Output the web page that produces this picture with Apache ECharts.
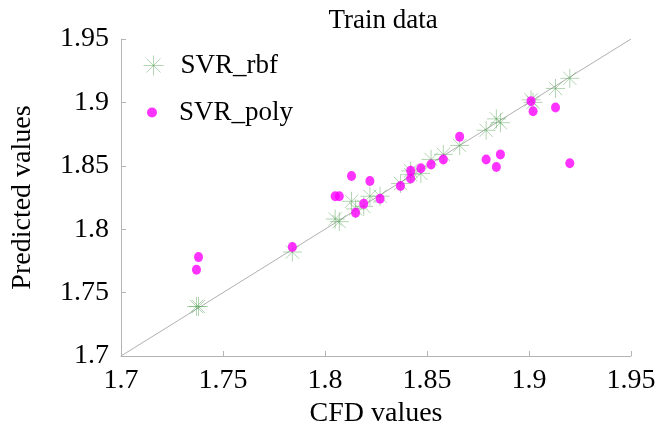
<!DOCTYPE html>
<html>
<head>
<meta charset="utf-8">
<script src="https://cdn.jsdelivr.net/npm/echarts@6/dist/echarts.min.js"></script>
<style>html,body{margin:0;padding:0;background:#fff}#c{width:662px;height:430px}</style>
</head>
<body>
<div id="c"></div>
<script>
const cfdValues = [1.737, 1.738, 1.784, 1.805, 1.807, 1.813, 1.815, 1.819, 1.822, 1.827, 1.837, 1.842, 1.842, 1.847, 1.852, 1.858, 1.866, 1.879, 1.884, 1.886, 1.901, 1.902, 1.913, 1.920];
const rbfValues = [1.739, 1.739, 1.782, 1.808, 1.806, 1.822, 1.816, 1.818, 1.826, 1.826, 1.836, 1.846, 1.843, 1.844, 1.855, 1.859, 1.866, 1.878, 1.887, 1.884, 1.902, 1.900, 1.911, 1.919];
const polyValues = [1.768, 1.778, 1.786, 1.826, 1.826, 1.842, 1.813, 1.820, 1.838, 1.824, 1.834, 1.846, 1.840, 1.848, 1.851, 1.855, 1.873, 1.855, 1.849, 1.859, 1.901, 1.893, 1.896, 1.852];
const axisTicks = [1.7, 1.75, 1.8, 1.85, 1.9, 1.95];
const seriesNames = ['SVR_rbf', 'SVR_poly'];
const titleText = 'Train data';
const xName = 'CFD values';
const yName = 'Predicted values';

const star = 'path://M10 0 L10 20 M0 10 L20 10 M3 3 L17 17 M3 17 L17 3';
const font = 'Liberation Serif, Times New Roman, serif';
const axisMin = axisTicks[0], axisMax = axisTicks[axisTicks.length - 1];
const fmt = v => String(Math.round(v * 100) / 100);
const starStyle = {color: 'none', borderColor: 'rgba(80,160,80,0.55)', borderWidth: 1};

const chart = echarts.init(document.getElementById('c'), null, {renderer: 'canvas'});
const axisCommon = {
  type: 'value', min: axisMin, max: axisMax, interval: 0.05,
  axisLine: {show: true, lineStyle: {color: '#b4b4b4', width: 1}},
  axisTick: {show: true, inside: true, length: 5, lineStyle: {color: '#b4b4b4'}},
  splitLine: {show: false},
  axisLabel: {color: '#000', fontFamily: font, fontSize: 28, formatter: fmt},
  nameTextStyle: {color: '#000', fontFamily: font, fontSize: 28}
};
const legendText = {fontFamily: font, fontSize: 27, color: '#000'};
chart.setOption({
  animation: false,
  title: {text: titleText, left: 378, top: 2, textAlign: 'center',
    textStyle: {fontFamily: font, fontSize: 27, fontWeight: 'normal', color: '#000'}},
  grid: {left: 121, top: 39, width: 510, height: 317, containLabel: false, outerBoundsMode: 'none'},
  xAxis: Object.assign({}, axisCommon, {
    name: xName, nameLocation: 'middle', nameGap: 43,
    axisLabel: Object.assign({}, axisCommon.axisLabel, {margin: 11})
  }),
  yAxis: Object.assign({}, axisCommon, {
    name: yName, nameLocation: 'middle', nameGap: 84, nameRotate: 90,
    axisLabel: Object.assign({}, axisCommon.axisLabel, {margin: 12})
  }),
  legend: [
    {
      orient: 'vertical', left: 141, top: 52, padding: 0, itemWidth: 20, itemHeight: 20,
      textStyle: Object.assign({padding: [0, 0, 0, 12]}, legendText),
      data: [{name: seriesNames[0], icon: star, itemStyle: starStyle}]
    },
    {
      orient: 'vertical', left: 147, top: 99, padding: 0, itemWidth: 10, itemHeight: 11,
      textStyle: Object.assign({padding: [0, 0, 0, 17]}, legendText),
      data: [{name: seriesNames[1], icon: 'circle', itemStyle: {color: '#ff00ff'}}]
    }
  ],
  series: [
    {
      type: 'line', silent: true, symbol: 'none',
      data: [[axisMin, axisMin], [axisMax, axisMax]],
      lineStyle: {color: '#b0b0b0', width: 1}, z: 1
    },
    {
      name: seriesNames[0], type: 'scatter', symbol: star, symbolSize: 19,
      data: cfdValues.map((x, i) => [x, rbfValues[i]]),
      itemStyle: starStyle, z: 2
    },
    {
      name: seriesNames[1], type: 'scatter', symbol: 'circle', symbolSize: [9, 10],
      data: cfdValues.map((x, i) => [x, polyValues[i]]),
      itemStyle: {color: '#ff00ff'}, z: 3
    }
  ]
});
</script>
</body>
</html>
